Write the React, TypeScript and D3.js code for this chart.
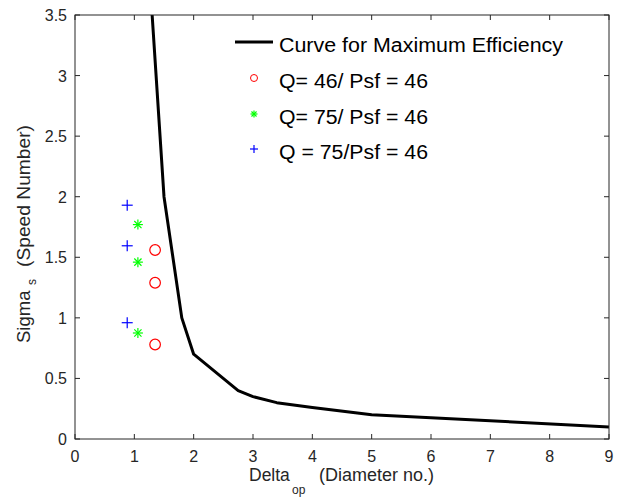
import React from "react";
import * as d3 from "d3";

const curveX = [1.3, 1.5, 1.8, 2.0, 2.75, 3.0, 3.4, 4.0, 5.0, 9.0];
const curveY = [3.5, 2.0, 1.0, 0.7, 0.4, 0.35, 0.3, 0.26, 0.2, 0.1];

const redX = [1.35, 1.35, 1.35];
const redY = [1.56, 1.29, 0.78];
const greenX = [1.06, 1.06, 1.06];
const greenY = [1.77, 1.46, 0.875];
const blueX = [0.88, 0.88, 0.88];
const blueY = [1.93, 1.595, 0.96];

const xTicks = [0, 1, 2, 3, 4, 5, 6, 7, 8, 9];
const yTicks = [0, 0.5, 1, 1.5, 2, 2.5, 3, 3.5];

const legendLabels = [
  "Curve for Maximum Efficiency",
  "Q= 46/ Psf = 46",
  "Q= 75/ Psf = 46",
  "Q = 75/Psf = 46",
];

const W = 622, H = 497;
const L = 75, R = 609, T = 15, B = 439;
const font = "'Liberation Sans', Arial, Helvetica, sans-serif";
const axisColor = "#262626";

function Plus({ x, y, s, color }: { x: number; y: number; s: number; color: string }) {
  return (
    <g stroke={color} strokeWidth={1.2}>
      <line x1={x - s} x2={x + s} y1={y} y2={y} />
      <line x1={x} x2={x} y1={y - s} y2={y + s} />
    </g>
  );
}

function Star({ x, y, s, color }: { x: number; y: number; s: number; color: string }) {
  const d = s * 0.72;
  return (
    <g stroke={color} strokeWidth={1.2}>
      <line x1={x - s} x2={x + s} y1={y} y2={y} />
      <line x1={x} x2={x} y1={y - s} y2={y + s} />
      <line x1={x - d} x2={x + d} y1={y - d} y2={y + d} />
      <line x1={x - d} x2={x + d} y1={y + d} y2={y - d} />
    </g>
  );
}

export default function App() {
  const x = d3.scaleLinear().domain([0, 9]).range([L, R]);
  const y = d3.scaleLinear().domain([0, 3.5]).range([B, T]);
  const line = d3
    .line<number>()
    .x((_, i) => x(curveX[i]))
    .y((_, i) => y(curveY[i]));
  const tickLen = 5;
  const legendY = [42, 78, 114, 149];
  const legendLen = [284, 149, 149, 149];

  return (
    <svg width={W} height={H} style={{ position: "absolute", left: 0, top: 0, background: "#fff" }} fontFamily={font}>
      <defs>
        <clipPath id="plotclip">
          <rect x={L} y={T} width={R - L} height={B - T} />
        </clipPath>
      </defs>
      <rect x={0} y={0} width={W} height={H} fill="#fff" />
      {/* curve */}
      <path d={line(curveX) || ""} fill="none" stroke="#000" strokeWidth={3} clipPath="url(#plotclip)" strokeLinejoin="round" />
      {/* markers */}
      {redX.map((v, i) => (
        <circle key={"r" + i} cx={x(v)} cy={y(redY[i])} r={5.3} fill="none" stroke="#ff0000" strokeWidth={1.2} />
      ))}
      {greenX.map((v, i) => (
        <Star key={"g" + i} x={x(v)} y={y(greenY[i])} s={5} color="#00ff00" />
      ))}
      {blueX.map((v, i) => (
        <Plus key={"b" + i} x={x(v)} y={y(blueY[i])} s={5.5} color="#0000ff" />
      ))}
      {/* axes box */}
      <rect x={L} y={T} width={R - L} height={B - T} fill="none" stroke={axisColor} strokeWidth={1} />
      {xTicks.map((t) => (
        <g key={"xt" + t}>
          <line x1={x(t)} x2={x(t)} y1={B} y2={B - tickLen} stroke={axisColor} />
          <line x1={x(t)} x2={x(t)} y1={T} y2={T + tickLen} stroke={axisColor} />
          <text x={x(t)} y={462} textAnchor="middle" fontSize={16} fill={axisColor}>
            {t}
          </text>
        </g>
      ))}
      {yTicks.map((t) => (
        <g key={"yt" + t}>
          <line x1={L} x2={L + tickLen} y1={y(t)} y2={y(t)} stroke={axisColor} />
          <line x1={R} x2={R - tickLen} y1={y(t)} y2={y(t)} stroke={axisColor} />
          <text x={L - 8} y={y(t) + 6} textAnchor="end" fontSize={16} fill={axisColor}>
            {t}
          </text>
        </g>
      ))}
      {/* x axis title */}
      <text x={249} y={481} fontSize={17.5} fill={axisColor}>Delta</text>
      <text x={292} y={494} fontSize={12} fill={axisColor}>op</text>
      <text x={319} y={481} fontSize={17.5} fill={axisColor} textLength={115} lengthAdjust="spacingAndGlyphs">(Diameter no.)</text>
      {/* y axis title */}
      <g transform="translate(30, 0)">
        <text transform="translate(0,343) rotate(-90)" fontSize={18.5} fill={axisColor}>Sigma</text>
        <text transform="translate(6,285) rotate(-90)" fontSize={12} fill={axisColor}>s</text>
        <text transform="translate(0,267) rotate(-90)" fontSize={18} fill={axisColor} textLength={142} lengthAdjust="spacingAndGlyphs">(Speed Number)</text>
      </g>
      {/* legend */}
      <g>
        <line x1={235} x2={273} y1={legendY[0]} y2={legendY[0]} stroke="#000" strokeWidth={3} />
        <circle cx={254} cy={legendY[1]} r={3.5} fill="none" stroke="#ff0000" strokeWidth={1} />
        <Star x={254} y={legendY[2]} s={3.5} color="#00ff00" />
        <Plus x={254} y={legendY[3]} s={4} color="#0000ff" />
        {legendLabels.map((lab, i) => (
          <text key={lab} x={279} y={legendY[i] + 10} fontSize={20} fill="#000" textLength={legendLen[i]} lengthAdjust="spacingAndGlyphs">
            {lab}
          </text>
        ))}
      </g>
    </svg>
  );
}
